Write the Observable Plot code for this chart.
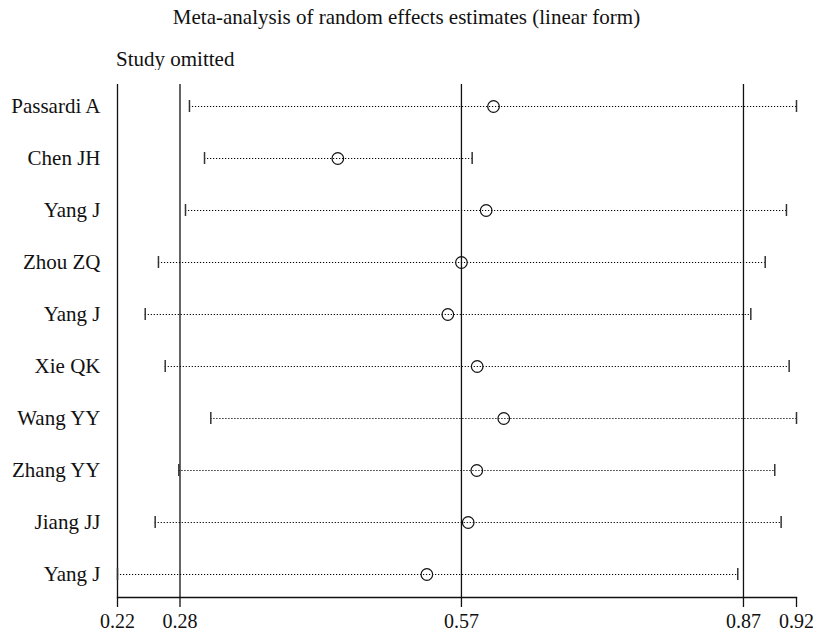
<!DOCTYPE html>
<html>
<head>
<meta charset="utf-8">
<script src="https://cdn.jsdelivr.net/npm/d3@7"></script>
<script src="https://cdn.jsdelivr.net/npm/@observablehq/plot@0.6"></script>
<style>
  html, body { margin: 0; padding: 0; background: #fff; }
  #wrap { position: relative; width: 813px; height: 633px; font-family: "Liberation Serif", "Times New Roman", serif; color: #111; }
  #title { position: absolute; top: 7px; left: 0; width: 813px; text-align: center; font-size: 21px; line-height: 21px; white-space: nowrap; }
  #sub { position: absolute; top: 49px; left: 116px; font-size: 21px; line-height: 21px; white-space: nowrap; }
  #chart { position: absolute; top: 70px; left: 0; }
</style>
</head>
<body>
<div id="wrap">
  <div id="title">Meta-analysis of random effects estimates (linear form)</div>
  <div id="sub">Study omitted</div>
  <div id="chart"></div>
</div>
<script>
// Studies omitted (top to bottom)
const studies = ["Passardi A", "Chen JH", "Yang J", "Zhou ZQ", "Yang J", "Xie QK", "Wang YY", "Zhang YY", "Jiang JJ", "Yang J"];
// Estimates with the study omitted and their CI bounds
const estimate = [0.6078, 0.4466, 0.6002, 0.5746, 0.5605, 0.5909, 0.6184, 0.5905, 0.5816, 0.5388];
const lower    = [0.2930, 0.3086, 0.2889, 0.2609, 0.2472, 0.2679, 0.3151, 0.2820, 0.2575, 0.2185];
const upper    = [0.9215, 0.5857, 0.9111, 0.8891, 0.8742, 0.9139, 0.9215, 0.8990, 0.9056, 0.8607];
// Reference lines: min bound, overall lower CI, overall estimate, overall upper CI
const refLines = [0.2185, 0.2832, 0.5746, 0.8666];
// Axis ticks and labels
const xTicks = [0.2185, 0.2832, 0.5746, 0.8666, 0.9215];
const xTickLabels = ["0.22", "0.28", "0.57", "0.87", "0.92"];

const rows = studies.map((s, i) => ({i, study: s, est: estimate[i], lo: lower[i], hi: upper[i]}));
const idx = rows.map(d => d.i);

const plot = Plot.plot({
  width: 813,
  height: 563,
  marginLeft: 117,
  marginRight: 17,
  marginTop: 14,
  marginBottom: 36,
  style: {fontFamily: "'Liberation Serif', 'Times New Roman', serif", fontSize: "21px", color: "#111", background: "white", overflow: "visible"},
  x: {domain: [xTicks[0], xTicks[xTicks.length - 1]]},
  y: {type: "band", domain: idx, range: [5, 534], padding: 0},
  marks: [
    Plot.ruleX(refLines, {stroke: "#111", strokeWidth: 1.3}),
    Plot.frame({anchor: "bottom", stroke: "#111", strokeWidth: 1.3}),
    Plot.ruleY(rows, {y: "i", x1: "lo", x2: "hi", stroke: "#000", strokeWidth: 1.2, strokeDasharray: "1.2,1.8"}),
    Plot.tickX(rows, {x: "lo", y: "i", stroke: "#333", strokeWidth: 1.5, insetTop: 20, insetBottom: 20}),
    Plot.tickX(rows, {x: "hi", y: "i", stroke: "#333", strokeWidth: 1.5, insetTop: 20, insetBottom: 20}),
    Plot.dot(rows, {x: "est", y: "i", r: 5.8, stroke: "#111", strokeWidth: 1.2, fill: "none"}),
    Plot.axisX({ticks: xTicks, tickFormat: (d, k) => xTickLabels[k], tickSize: 10, tickPadding: 6, stroke: "#111", strokeWidth: 1.3, label: null, fontSize: 20}),
    Plot.axisY({ticks: idx, tickFormat: d => studies[d], tickSize: 0, tickPadding: 17, label: null, fontSize: 21})
  ]
});
document.getElementById("chart").appendChild(plot);
</script>
</body>
</html>
